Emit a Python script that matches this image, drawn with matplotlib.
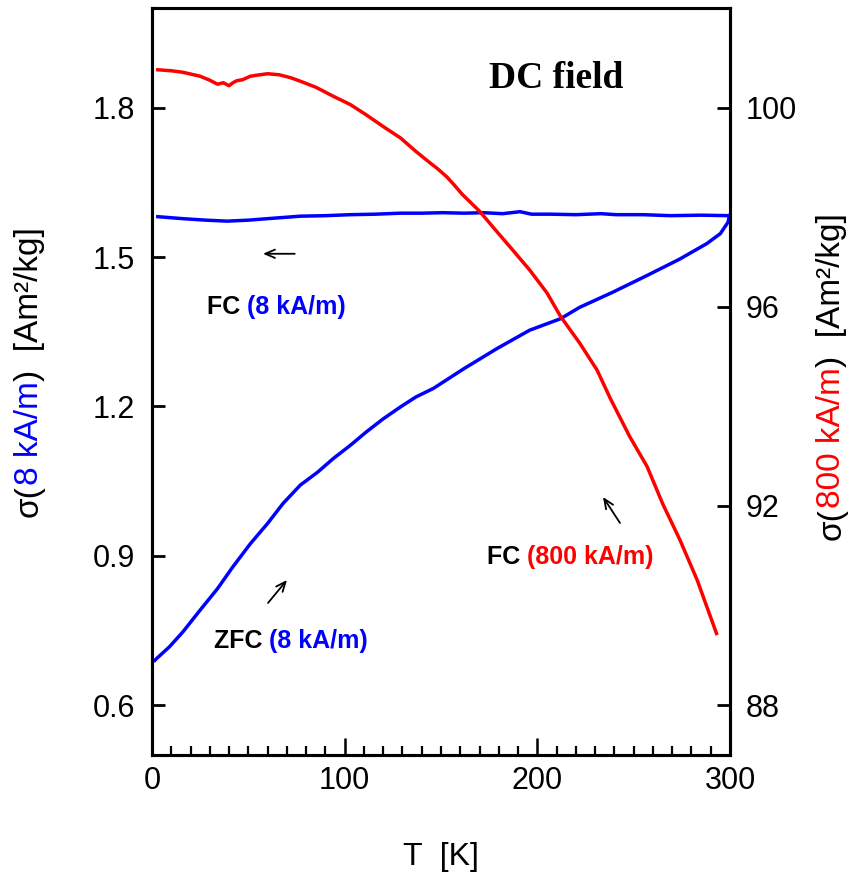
import matplotlib
matplotlib.use("Agg")
import matplotlib.pyplot as plt
from matplotlib.ticker import MultipleLocator

plt.rcParams['font.family'] = ['Liberation Sans', 'DejaVu Sans']

# FC magnetisation in 800 kA/m (right axis)
T_fc800 = [3, 10, 16, 25, 30, 34, 37, 40, 42, 44, 47, 51, 56, 60, 66, 72, 77, 85,
           94, 103, 111, 120, 129, 137, 144, 148, 153, 157, 161, 170, 179, 187, 196,
           205, 212, 222, 231, 238, 248, 257, 265, 274, 283, 293]
sig_fc800 = [100.76, 100.74, 100.71, 100.63, 100.55, 100.47, 100.50, 100.44, 100.50,
             100.54, 100.56, 100.63, 100.66, 100.68, 100.66, 100.60, 100.53, 100.41,
             100.23, 100.06, 99.86, 99.62, 99.39, 99.12, 98.90, 98.78, 98.61, 98.44,
             98.26, 97.92, 97.51, 97.15, 96.74, 96.28, 95.81, 95.27, 94.73, 94.15,
             93.39, 92.79, 92.05, 91.32, 90.51, 89.44]

# ZFC magnetisation in 8 kA/m (left axis)
T_zfc8 = [1.5, 2.5, 9, 16, 25, 34, 42, 51, 60, 68, 77, 86, 94, 103, 111, 120, 129,
          137, 146, 162, 179, 196, 212, 222, 239, 257, 274, 288, 295, 299, 299.7]
sig_zfc8 = [0.690, 0.694, 0.717, 0.747, 0.791, 0.834, 0.878, 0.924, 0.965, 1.005,
            1.042, 1.068, 1.095, 1.122, 1.148, 1.175, 1.199, 1.219, 1.236, 1.276,
            1.316, 1.353, 1.376, 1.399, 1.429, 1.463, 1.496, 1.527, 1.547, 1.570, 1.583]

# FC magnetisation in 8 kA/m (left axis)
T_fc8 = [3, 16, 28, 39, 50, 60, 77, 90, 103, 116, 129, 140, 151, 162, 172, 182,
         191, 197, 207, 220, 233, 241, 255, 269, 285, 299.7]
sig_fc8 = [1.581, 1.577, 1.574, 1.572, 1.574, 1.577, 1.582, 1.583, 1.585, 1.586,
           1.588, 1.588, 1.589, 1.588, 1.589, 1.587, 1.591, 1.586, 1.586, 1.585,
           1.587, 1.585, 1.585, 1.583, 1.584, 1.583]

x_ticks = [0, 100, 200, 300]
left_ticks = [0.6, 0.9, 1.2, 1.5, 1.8]
right_ticks = [88, 92, 96, 100]

BLUE = '#0000ff'
RED = '#ff0000'

fig = plt.figure(figsize=(8.52, 8.72), dpi=100)
ax = fig.add_axes([0.1784, 0.1342, 0.6784, 0.8566])
ax2 = ax.twinx()

ax.plot(T_zfc8, sig_zfc8, color=BLUE, lw=2.5, zorder=3)
ax.plot(T_fc8, sig_fc8, color=BLUE, lw=2.5, zorder=3)
ax2.plot(T_fc800, sig_fc800, color=RED, lw=2.5, zorder=3)

ax.set_xlim(0, 300)
ax.set_ylim(0.5, 2.0)
ax2.set_ylim(87, 102)

ax.set_xticks(x_ticks)
ax.xaxis.set_minor_locator(MultipleLocator(10))
ax.set_yticks(left_ticks)
ax.set_yticklabels([f"{v:.1f}" for v in left_ticks])
ax2.set_yticks(right_ticks)

for a in (ax, ax2):
    for s in a.spines.values():
        s.set_linewidth(2.2)

ax.tick_params(axis='x', which='major', direction='in', length=12.5, width=1.8,
               labelsize=22, pad=8, top=False)
ax.tick_params(axis='x', which='minor', direction='in', length=6.5, width=1.6, top=False)
ax.tick_params(axis='y', which='major', direction='in', length=9.5, width=2.0,
               labelsize=22, pad=12, right=False)
ax2.tick_params(axis='y', which='major', direction='in', length=9.5, width=2.0,
                labelsize=22, pad=11)

ax.set_xlabel('T  [K]', fontsize=23, labelpad=33)


def vertical_label(x, y, pieces, size=24):
    """Stack rotated text pieces bottom-to-top, each in its own colour."""
    prev = fig.text(x, y, pieces[0][0], color=pieces[0][1], fontsize=size,
                    rotation=90, rotation_mode='anchor', ha='left', va='top')
    for s, c in pieces[1:]:
        prev = ax.annotate(s, xy=(0, 1), xycoords=prev, color=c, fontsize=size,
                           rotation=90, rotation_mode='anchor', ha='left', va='top',
                           annotation_clip=False)
    return prev


def horizontal_label(x, y, pieces, size=18, weight='bold'):
    """Write text pieces left-to-right in axes coordinates, each in its own colour."""
    prev = ax.text(x, y, pieces[0][0], color=pieces[0][1], fontsize=size,
                   fontweight=weight, ha='left', va='center', transform=ax.transAxes)
    for s, c in pieces[1:]:
        prev = ax.annotate(s, xy=(1, 0), xycoords=prev, color=c, fontsize=size,
                           fontweight=weight, ha='left', va='bottom')
    return prev


# axis titles with coloured field values
vertical_label(0.016, 0.407, [('σ(', 'black'), ('8 kA/m', BLUE), (')  [Am²/kg]', 'black')])
vertical_label(0.958, 0.381, [('σ(', 'black'), ('800 kA/m', RED), (')  [Am²/kg]', 'black')])

# curve annotations
ax.text(0.699, 0.906, 'DC field', fontsize=27, fontweight='bold',
        family='Liberation Serif', ha='center', va='center', transform=ax.transAxes)

horizontal_label(0.095, 0.600, [('FC ', 'black'), ('(8 kA/m)', BLUE)])
horizontal_label(0.107, 0.152, [('ZFC ', 'black'), ('(8 kA/m)', BLUE)])
horizontal_label(0.580, 0.265, [('FC ', 'black'), ('(800 kA/m)', RED)])

arrow = dict(arrowstyle='->,head_length=0.7,head_width=0.3', color='black', lw=1.3,
             shrinkA=0, shrinkB=0)
ax.annotate('', xy=(0.192, 0.671), xytext=(0.247, 0.671), xycoords='axes fraction',
            textcoords='axes fraction', arrowprops=arrow)
ax.annotate('', xy=(0.2336, 0.2343), xytext=(0.2007, 0.2035), xycoords='axes fraction',
            textcoords='axes fraction', arrowprops=arrow)
ax.annotate('', xy=(0.7803, 0.3454), xytext=(0.8097, 0.3106), xycoords='axes fraction',
            textcoords='axes fraction', arrowprops=arrow)

fig.savefig('out.png', dpi=100)
